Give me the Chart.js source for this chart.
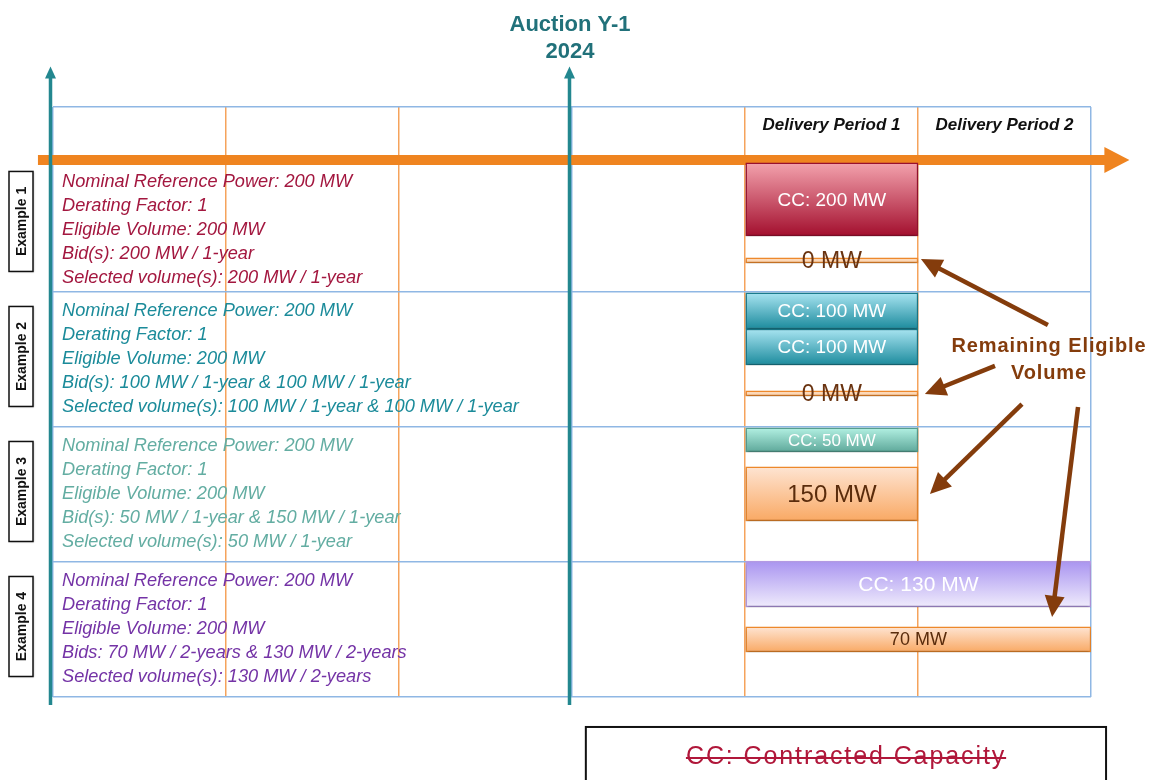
<!DOCTYPE html>
<html>
<head>
<meta charset="utf-8">
<script src="https://cdn.jsdelivr.net/npm/chart.js@4.4.1/dist/chart.umd.min.js"></script>
<style>
  html, body { margin: 0; padding: 0; background: #fff; }
  #contenedor { width: 1158px; height: 780px; }
</style>
</head>
<body>
<div id="contenedor"><canvas id="graficoSubasta" width="1158" height="780"></canvas></div>
<script>
// x axis: years, -1 = auction year, 0..2 = delivery periods
// y axis: rows, one unit per example (Example 4 at the bottom)
const periodTicks = [-4, -3, -2, -1, 0, 1, 2];
const rowLines = [0, 1, 2, 3, 4.37];

const auctionLabel = ['Auction Y-1', '2024'];
const auctionPeriod = -1;
const periodLabels = ['Delivery Period 1', 'Delivery Period 2'];
const periodCenters = [0.5, 1.5];

const exampleNames = ['Example 1', 'Example 2', 'Example 3', 'Example 4'];
const exampleRows = [3.5, 2.5, 1.5, 0.5];
const exampleTexts = [
    ['Nominal Reference Power: 200 MW', 'Derating Factor: 1', 'Eligible Volume: 200 MW',
     'Bid(s): 200 MW / 1-year', 'Selected volume(s): 200 MW / 1-year'],
    ['Nominal Reference Power: 200 MW', 'Derating Factor: 1', 'Eligible Volume: 200 MW',
     'Bid(s): 100 MW / 1-year & 100 MW / 1-year', 'Selected volume(s): 100 MW / 1-year & 100 MW / 1-year'],
    ['Nominal Reference Power: 200 MW', 'Derating Factor: 1', 'Eligible Volume: 200 MW',
     'Bid(s): 50 MW / 1-year & 150 MW / 1-year', 'Selected volume(s): 50 MW / 1-year'],
    ['Nominal Reference Power: 200 MW', 'Derating Factor: 1', 'Eligible Volume: 200 MW',
     'Bids: 70 MW / 2-years & 130 MW / 2-years', 'Selected volume(s): 130 MW / 2-years']
];

// contracted capacity and remaining eligible volume boxes
const boxLabels = ['CC: 200 MW', '0 MW', 'CC: 100 MW', 'CC: 100 MW', '0 MW', 'CC: 50 MW', '150 MW', 'CC: 130 MW', '70 MW'];
const boxKinds = ['red', 'zero', 'teal', 'teal', 'zero', 'green', 'orange', 'purple', 'orangeSmall'];
const boxStart = [0, 0, 0, 0, 0, 0, 0, 0, 0];
const boxEnd = [1, 1, 1, 1, 1, 1, 1, 2, 2];
const boxTop = [3.956, 3.252, 2.993, 2.726, 2.267, 1.993, 1.704, 1.007, 0.519];
const boxBottom = [3.415, 3.215, 2.726, 2.459, 2.230, 1.815, 1.304, 0.667, 0.333];

const remainingLabel = ['Remaining Eligible', 'Volume'];
const remainingAt = [1.757, 2.593, 2.393];
// arrows: [fromPeriod, fromRow, toPeriod, toRow]
const remainingArrows = [
    [1.751, 2.756, 1.017, 3.244],
    [1.445, 2.452, 1.040, 2.244],
    [1.601, 2.170, 1.069, 1.504],
    [1.925, 2.148, 1.775, 0.593]
];
const legendText = 'CC: Contracted Capacity';

const exampleColors = ['#a3173f', '#1b8b9a', '#63ada2', '#7433a6'];
const boxStyles = {
    red:         { top: '#f3a2ad', bottom: '#a30f2e', border: '#9b1030', text: '#ffffff', size: 19 },
    teal:        { top: '#a8e4f1', bottom: '#1c8b9d', border: '#1a7d8e', text: '#ffffff', size: 19 },
    green:       { top: '#b2f0e2', bottom: '#5ea89a', border: '#57a092', text: '#ffffff', size: 17 },
    orange:      { top: '#fee4d2', bottom: '#f9a964', border: '#f08a2c', text: '#5a2c0c', size: 24 },
    orangeSmall: { top: '#fee4d2', bottom: '#f9a964', border: '#f08a2c', text: '#5a2c0c', size: 18 },
    purple:      { top: '#a994f0', bottom: '#efebfc', border: '#b69be6', text: '#ffffff', size: 21 },
    zero:        { top: '#fcd8b8', bottom: '#fcd8b8', border: '#f08a2c', text: '#6a3310', size: 23 }
};
const FONT = "'Liberation Sans', Arial, sans-serif";

function dibujarFlecha(ctx, x1, y1, x2, y2, color, ancho, largo, abertura) {
    const ang = Math.atan2(y2 - y1, x2 - x1);
    const bx = x2 - Math.cos(ang) * largo;
    const by = y2 - Math.sin(ang) * largo;
    ctx.save();
    ctx.strokeStyle = color;
    ctx.fillStyle = color;
    ctx.lineWidth = ancho;
    ctx.beginPath();
    ctx.moveTo(x1, y1);
    ctx.lineTo(x2 - Math.cos(ang) * largo * 0.8, y2 - Math.sin(ang) * largo * 0.8);
    ctx.stroke();
    ctx.beginPath();
    ctx.moveTo(x2, y2);
    ctx.lineTo(bx + Math.sin(ang) * abertura / 2, by - Math.cos(ang) * abertura / 2);
    ctx.lineTo(bx - Math.sin(ang) * abertura / 2, by + Math.cos(ang) * abertura / 2);
    ctx.closePath();
    ctx.fill();
    ctx.restore();
}

function pixelesFila(chart, v) {
    const y = chart.scales.y;
    if (!y) return NaN;
    return y.getPixelForValue(v);
}

const datasets = boxLabels.map((label, i) => {
    const st = boxStyles[boxKinds[i]];
    return {
        label: label,
        data: [{ x: [boxStart[i], boxEnd[i]], y: (boxTop[i] + boxBottom[i]) / 2 }],
        grouped: false,
        barThickness: ctx => {
            const h = Math.abs(pixelesFila(ctx.chart, boxTop[i]) - pixelesFila(ctx.chart, boxBottom[i]));
            return isFinite(h) && h > 0 ? h : 10;
        },
        backgroundColor: ctx => {
            const y0 = pixelesFila(ctx.chart, boxTop[i]);
            const y1 = pixelesFila(ctx.chart, boxBottom[i]);
            if (!isFinite(y0) || !isFinite(y1) || y0 === y1) return st.top;
            const g = ctx.chart.ctx.createLinearGradient(0, y0, 0, y1);
            g.addColorStop(0, st.top);
            g.addColorStop(1, st.bottom);
            return g;
        },
        borderColor: st.border,
        borderWidth: 1.5,
        borderSkipped: false
    };
});

const planoPlugin = {
    id: 'plano',
    beforeDraw(chart) {
        const { ctx, width, height } = chart;
        ctx.save();
        ctx.fillStyle = '#ffffff';
        ctx.fillRect(0, 0, width, height);
        ctx.restore();
    },
    beforeDatasetsDraw(chart) {
        const { ctx, scales: { x, y } } = chart;
        // timeline
        dibujarFlecha(ctx, x.getPixelForValue(-4.087), y.getPixelForValue(3.978),
            x.getPixelForValue(2.222), y.getPixelForValue(3.978), '#ef8420', 10, 25, 26);
        // vertical axes
        [-4, auctionPeriod].forEach(p => {
            const px = x.getPixelForValue(p) - 2.5;
            dibujarFlecha(ctx, px, y.getPixelForValue(-0.06), px, y.getPixelForValue(4.67), '#23878f', 3.5, 12, 11);
        });
    },
    beforeDatasetDraw(chart) {
        const ctx = chart.ctx;
        ctx.save();
        ctx.shadowColor = 'rgba(0,0,0,0.28)';
        ctx.shadowBlur = 3;
        ctx.shadowOffsetY = 2;
    },
    afterDatasetDraw(chart) {
        chart.ctx.restore();
    },
    afterDatasetsDraw(chart) {
        const { ctx, scales: { x, y } } = chart;
        ctx.save();
        ctx.textAlign = 'center';
        ctx.textBaseline = 'middle';

        // labels inside boxes
        chart.data.datasets.forEach((ds, i) => {
            const el = chart.getDatasetMeta(i).data[0];
            const st = boxStyles[boxKinds[i]];
            const c = el.getCenterPoint();
            ctx.font = st.size + 'px ' + FONT;
            ctx.fillStyle = st.text;
            ctx.fillText(boxLabels[i], c.x, c.y + 1);
        });

        // auction title
        ctx.fillStyle = '#21717a';
        ctx.font = 'bold 22px ' + FONT;
        ctx.fillText(auctionLabel[0], x.getPixelForValue(auctionPeriod) - 2, y.getPixelForValue(4.975));
        ctx.fillText(auctionLabel[1], x.getPixelForValue(auctionPeriod) - 2, y.getPixelForValue(4.775));

        // delivery period headers
        ctx.fillStyle = '#111111';
        ctx.font = 'italic bold 17px ' + FONT;
        periodLabels.forEach((t, i) => ctx.fillText(t, x.getPixelForValue(periodCenters[i]), y.getPixelForValue(4.237)));

        // example descriptions
        ctx.textAlign = 'left';
        ctx.font = 'italic 18.2px ' + FONT;
        exampleTexts.forEach((lines, r) => {
            const cy = y.getPixelForValue(exampleRows[r]) + (r === 0 ? 5 : -1);
            ctx.fillStyle = exampleColors[r];
            lines.forEach((t, k) => ctx.fillText(t, x.getPixelForValue(-4) + 9, cy + (k - 2) * 24));
        });

        // example tags
        ctx.textAlign = 'center';
        exampleNames.forEach((t, r) => {
            const cx = x.getPixelForValue(-4) - 32;
            const cy = y.getPixelForValue(exampleRows[r]) - 3;
            ctx.save();
            ctx.shadowColor = 'rgba(0,0,0,0.25)';
            ctx.shadowBlur = 2;
            ctx.shadowOffsetX = 1;
            ctx.shadowOffsetY = 1;
            ctx.fillStyle = '#ffffff';
            ctx.fillRect(cx - 12, cy - 50, 24, 100);
            ctx.restore();
            ctx.strokeStyle = '#111111';
            ctx.lineWidth = 1.5;
            ctx.strokeRect(cx - 12, cy - 50, 24, 100);
            ctx.save();
            ctx.translate(cx, cy);
            ctx.rotate(-Math.PI / 2);
            ctx.fillStyle = '#111111';
            ctx.font = 'bold 14px ' + FONT;
            ctx.fillText(t, 0, 1);
            ctx.restore();
        });

        // remaining eligible volume
        ctx.fillStyle = '#843c0c';
        ctx.font = 'bold 20px ' + FONT;
        ctx.letterSpacing = '0.9px';
        ctx.fillText(remainingLabel[0], x.getPixelForValue(remainingAt[0]), y.getPixelForValue(remainingAt[1]));
        ctx.fillText(remainingLabel[1], x.getPixelForValue(remainingAt[0]), y.getPixelForValue(remainingAt[2]));
        ctx.letterSpacing = '0px';
        remainingArrows.forEach(a => {
            dibujarFlecha(ctx, x.getPixelForValue(a[0]), y.getPixelForValue(a[1]),
                x.getPixelForValue(a[2]), y.getPixelForValue(a[3]), '#843c0c', 4.5, 21, 20);
        });

        // legend box
        const lx0 = x.getPixelForValue(-0.92), lx1 = x.getPixelForValue(2.087);
        const ly0 = y.getPixelForValue(-0.222);
        ctx.strokeStyle = '#111111';
        ctx.lineWidth = 2;
        ctx.strokeRect(lx0, ly0, lx1 - lx0, 100);
        ctx.fillStyle = '#b0173a';
        ctx.font = '25px ' + FONT;
        ctx.letterSpacing = '1.9px';
        const tx = x.getPixelForValue(0.584), ty = y.getPixelForValue(-0.444);
        ctx.fillText(legendText, tx, ty);
        const w = ctx.measureText(legendText).width;
        ctx.strokeStyle = '#b0173a';
        ctx.lineWidth = 2;
        ctx.beginPath();
        ctx.moveTo(tx - w / 2, ty + 1);
        ctx.lineTo(tx + w / 2, ty + 1);
        ctx.stroke();
        ctx.restore();
    }
};

const ctxPlano = document.getElementById('graficoSubasta').getContext('2d');
new Chart(ctxPlano, {
    type: 'bar',
    data: { datasets: datasets },
    options: {
        indexAxis: 'y',
        responsive: false,
        animation: false,
        events: [],
        layout: { padding: { left: 53, right: 67, top: 107, bottom: 83 } },
        plugins: {
            legend: { display: false },
            tooltip: { enabled: false }
        },
        scales: {
            x: {
                type: 'linear',
                min: periodTicks[0],
                max: periodTicks[periodTicks.length - 1],
                afterBuildTicks: s => { s.ticks = periodTicks.map(v => ({ value: v })); },
                ticks: { display: false },
                border: { display: false },
                grid: {
                    drawTicks: false,
                    color: ctx => (ctx.tick && (ctx.tick.value === -4 || ctx.tick.value === 2 || ctx.tick.value === -1)) ? '#8fb7e4' : '#f5a35c',
                    lineWidth: 1.5
                }
            },
            y: {
                type: 'linear',
                min: rowLines[0],
                max: rowLines[rowLines.length - 1],
                offset: false,
                afterBuildTicks: s => { s.ticks = rowLines.map(v => ({ value: v })); },
                ticks: { display: false },
                border: { display: false },
                grid: { drawTicks: false, offset: false, color: '#8fb7e4', lineWidth: 1.5 }
            }
        }
    },
    plugins: [planoPlugin]
});
</script>
</body>
</html>
